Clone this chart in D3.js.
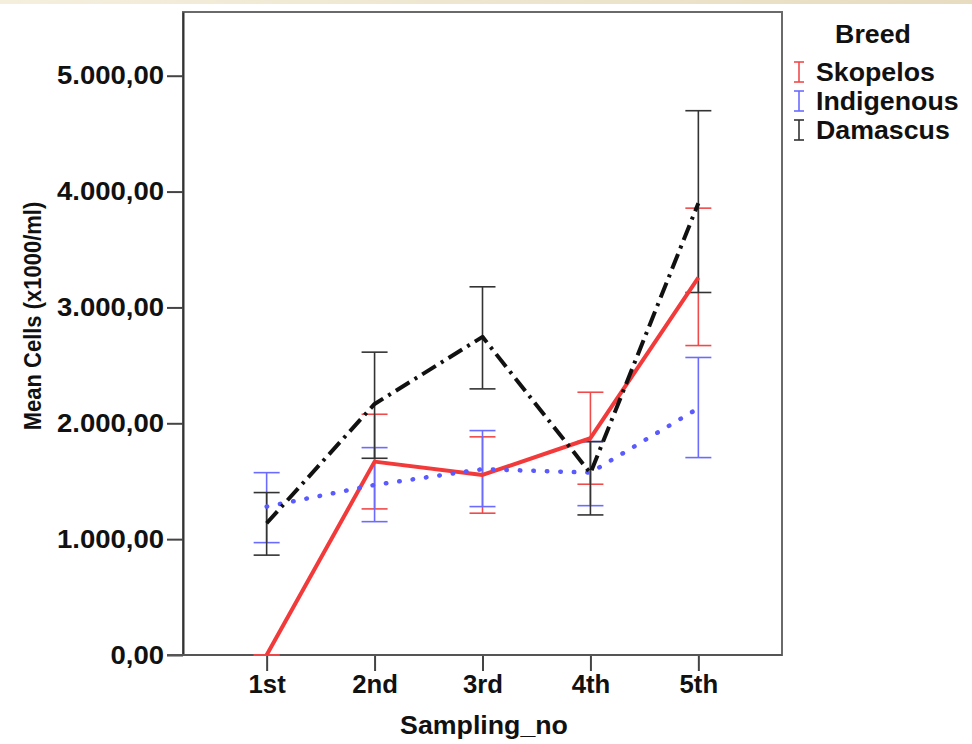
<!DOCTYPE html>
<html>
<head>
<meta charset="utf-8">
<script src="https://cdn.jsdelivr.net/npm/d3@7"></script>
<style>
  html, body { margin: 0; padding: 0; background: #ffffff; }
  svg { display: block; }
  text { font-family: "Liberation Sans", Arial, sans-serif; font-weight: bold; fill: #111; }
</style>
</head>
<body>
<svg id="chart" width="972" height="744"></svg>
<script>
// ---- data ----
const categories = ["1st", "2nd", "3rd", "4th", "5th"];
const seriesNames = ["Skopelos", "Indigenous", "Damascus"];
const skopelosMean = [0, 1669, 1554, 1871, 3258];
const skopelosLow  = [0, 1261, 1224, 1474, 2671];
const skopelosHigh = [0, 2078, 1883, 2268, 3857];
const indigenousMean = [1281, 1468, 1604, 1574, 2130];
const indigenousLow  = [970, 1151, 1281, 1289, 1704];
const indigenousHigh = [1574, 1790, 1937, 1842, 2568];
const damascusMean = [1137, 2167, 2746, 1569, 3900];
const damascusLow  = [862, 1698, 2297, 1209, 3129];
const damascusHigh = [1402, 2614, 3178, 1842, 4698];
const yTicks = [0, 1000, 2000, 3000, 4000, 5000];
const yMax = 5550;
const xTitle = "Sampling_no";
const yTitle = "Mean Cells (x1000/ml)";
const legendTitle = "Breed";

// ---- styles ----
const styles = {
  Skopelos:   { color: "#f23a3a", bar: "#f04a4a", dash: null, cap: "butt", width: 4 },
  Indigenous: { color: "#5a5aff", bar: "#6b6bff", dash: "0.5,13", cap: "round", width: 4.5 },
  Damascus:   { color: "#111111", bar: "#333333", dash: "16,6,3,6", cap: "butt", width: 4 }
};

const series = [
  { name: "Skopelos", mean: skopelosMean, low: skopelosLow, high: skopelosHigh },
  { name: "Indigenous", mean: indigenousMean, low: indigenousLow, high: indigenousHigh },
  { name: "Damascus", mean: damascusMean, low: damascusLow, high: damascusHigh }
];

const svg = d3.select("#chart");
const L = 183, R = 782, T = 12, B = 655;
const SX = 1.07; // horizontal stretch of text as in the reference

// top beige band
const defs = svg.append("defs");
const grad = defs.append("linearGradient").attr("id", "band").attr("x1", "0").attr("x2", "1");
grad.append("stop").attr("offset", "0").attr("stop-color", "#f4efdd");
grad.append("stop").attr("offset", "1").attr("stop-color", "#e7dcc0");
svg.append("rect").attr("x", 0).attr("y", 0).attr("width", 972).attr("height", 4).attr("fill", "url(#band)");

const x = d3.scalePoint().domain(categories).range([L, R]).padding(0.775);
const y = d3.scaleLinear().domain([0, yMax]).range([B, T]);

const loc = d3.formatLocale({ decimal: ",", thousands: ".", grouping: [3], currency: ["", ""] });
const fmt = loc.format(",.2f");

// frame
svg.append("rect").attr("x", L).attr("y", T).attr("width", R - L).attr("height", B - T)
  .attr("fill", "none").attr("stroke", "#6a6a6a").attr("stroke-width", 2);

function stretch(sel, sx) {
  sel.each(function () {
    const t = d3.select(this);
    const tx = +t.attr("x") || 0;
    const ty = +t.attr("y") || 0;
    t.attr("x", 0).attr("y", 0).attr("transform", `translate(${tx},${ty}) scale(${sx},1)`);
  });
}

// axes
const yAxis = d3.axisLeft(y).tickValues(yTicks).tickFormat(fmt).tickSize(16).tickSizeOuter(0).tickPadding(3);
const gy = svg.append("g").attr("transform", `translate(${L},0)`).call(yAxis);
gy.select(".domain").attr("stroke", "#333").attr("stroke-width", 2);
gy.selectAll(".tick line").attr("stroke", "#444").attr("stroke-width", 2);
gy.selectAll(".tick text").attr("font-size", 25).attr("fill", "#111")
  .attr("font-family", "Liberation Sans, Arial, sans-serif").attr("font-weight", "bold");
stretch(gy.selectAll(".tick text"), 1.1);

const xAxis = d3.axisBottom(x).tickSize(16).tickPadding(4);
const gx = svg.append("g").attr("transform", `translate(0,${B})`).call(xAxis);
gx.select(".domain").remove();
svg.append("line").attr("x1", L - 16).attr("x2", R).attr("y1", B).attr("y2", B)
  .attr("stroke", "#555").attr("stroke-width", 2.2);
gx.selectAll(".tick line").attr("stroke", "#444").attr("stroke-width", 2);
gx.selectAll(".tick text").attr("font-size", 25).attr("fill", "#111")
  .attr("font-family", "Liberation Sans, Arial, sans-serif").attr("font-weight", "bold");
stretch(gx.selectAll(".tick text"), 1.03);

// axis titles
svg.append("text").attr("transform", `translate(484,734) scale(${SX},1)`).attr("text-anchor", "middle")
  .attr("font-size", 25).text(xTitle);
svg.append("text").attr("transform", `translate(41,316) scale(1.05,1) rotate(-90)`).attr("text-anchor", "middle")
  .attr("font-size", 22).text(yTitle);

// error bars
const capHalf = 13;
series.forEach(s => {
  const st = styles[s.name];
  const g = svg.append("g").attr("stroke", st.bar).attr("stroke-width", 1.6).attr("fill", "none");
  categories.forEach((c, i) => {
    const cx = x(c);
    if (s.high[i] > s.low[i]) {
      g.append("line").attr("x1", cx).attr("x2", cx).attr("y1", y(s.low[i])).attr("y2", y(s.high[i]));
    }
    g.append("line").attr("x1", cx - capHalf).attr("x2", cx + capHalf).attr("y1", y(s.low[i])).attr("y2", y(s.low[i]));
    g.append("line").attr("x1", cx - capHalf).attr("x2", cx + capHalf).attr("y1", y(s.high[i])).attr("y2", y(s.high[i]));
  });
});

// lines
const line = d3.line().x((d, i) => x(categories[i])).y(d => y(d));
series.forEach(s => {
  const st = styles[s.name];
  svg.append("path").datum(s.mean).attr("d", line)
    .attr("fill", "none").attr("stroke", st.color).attr("stroke-width", st.width)
    .attr("stroke-dasharray", st.dash).attr("stroke-linecap", st.cap).attr("stroke-linejoin", "round");
});

// legend
svg.append("text").attr("transform", `translate(873,43) scale(${SX},1)`).attr("text-anchor", "middle")
  .attr("font-size", 25).text(legendTitle);
const legendY = [72, 101, 130];
series.forEach((s, i) => {
  const st = styles[s.name];
  const cy = legendY[i];
  const g = svg.append("g").attr("stroke", st.bar).attr("stroke-width", 1.6).attr("fill", "none");
  g.append("line").attr("x1", 799).attr("x2", 799).attr("y1", cy - 10).attr("y2", cy + 10);
  g.append("line").attr("x1", 794).attr("x2", 804).attr("y1", cy - 10).attr("y2", cy - 10);
  g.append("line").attr("x1", 794).attr("x2", 804).attr("y1", cy + 10).attr("y2", cy + 10);
  svg.append("text").attr("transform", `translate(816,${cy + 9}) scale(${SX},1)`)
    .attr("font-size", 25).text(s.name);
});
</script>
</body>
</html>
